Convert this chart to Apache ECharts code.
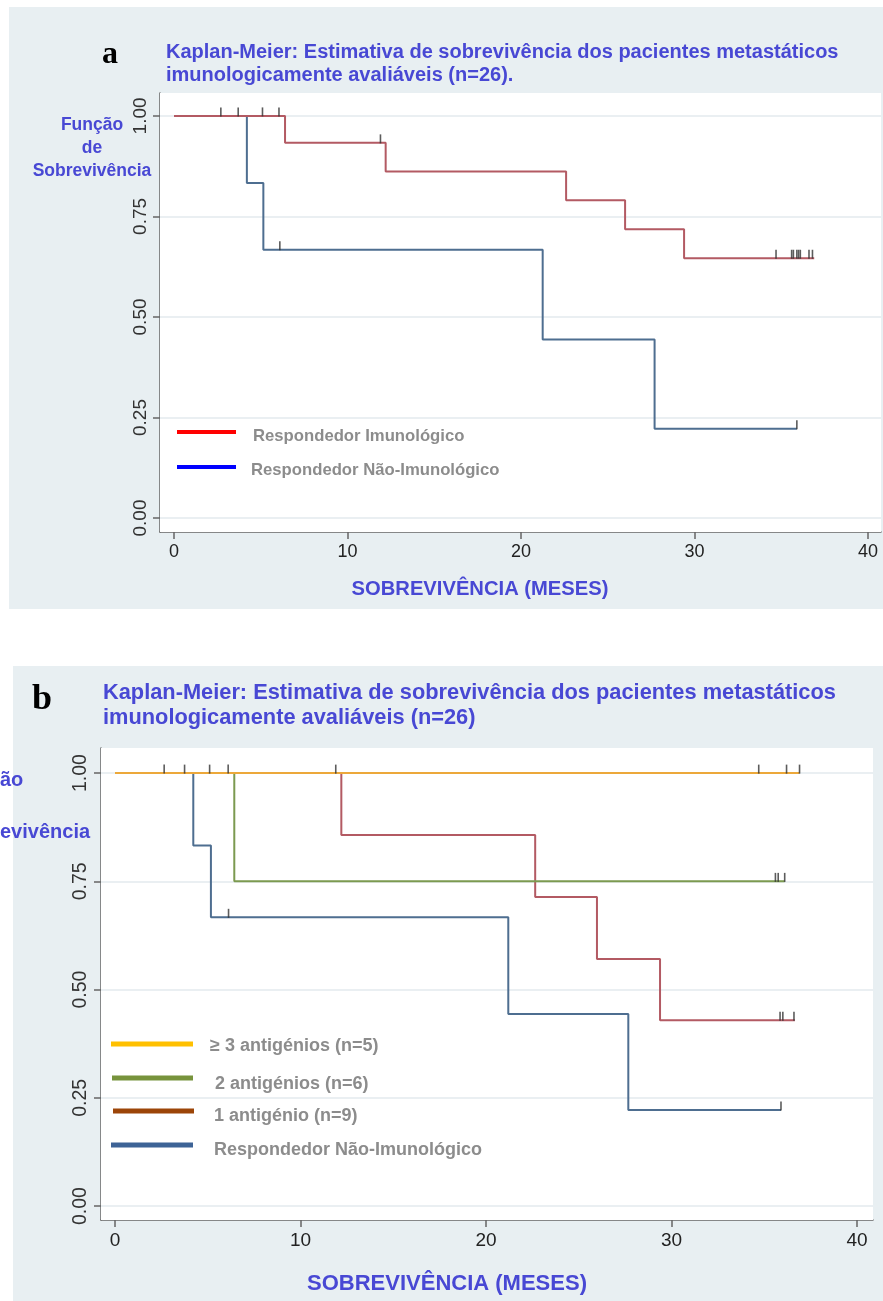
<!DOCTYPE html>
<html>
<head>
<meta charset="utf-8">
<script src="https://cdn.jsdelivr.net/npm/echarts@6/dist/echarts.min.js"></script>
<style>
html,body{margin:0;padding:0;background:#fff;}
#c{width:883px;height:1301px;}
</style>
</head>
<body>
<div id="c"></div>
<script>
// ---------- data ----------
const xTicks = [0, 10, 20, 30, 40];
const yTicks = [0, 0.25, 0.5, 0.75, 1];

// Panel a
const aRespT = [0, 6.4, 12.2, 22.6, 26.0, 29.4, 36.9];
const aRespS = [1, 0.933, 0.862, 0.790, 0.718, 0.646, 0.646];
const aRespCensT = [2.7, 3.7, 5.1, 6.05, 11.9, 34.7, 35.6, 35.7, 35.9, 36.0, 36.1, 36.6, 36.8];
const aRespCensS = [1, 1, 1, 1, 0.933, 0.646, 0.646, 0.646, 0.646, 0.646, 0.646, 0.646, 0.646];
const aNonT = [0, 4.2, 5.15, 21.25, 27.7, 35.9];
const aNonS = [1, 0.833, 0.667, 0.444, 0.222, 0.222];
const aNonCensT = [6.1, 35.9];
const aNonCensS = [0.667, 0.222];

// Panel b
const bAg3T = [0, 36.9];
const bAg3S = [1, 1];
const bAg3CensT = [2.65, 3.75, 5.1, 6.1, 11.9, 34.7, 36.2, 36.9];
const bAg3CensS = [1, 1, 1, 1, 1, 1, 1, 1];
const bAg2T = [0, 6.43, 36.1];
const bAg2S = [1, 0.75, 0.75];
const bAg2CensT = [35.6, 35.75, 36.1];
const bAg2CensS = [0.75, 0.75, 0.75];
const bAg1T = [0, 12.2, 22.65, 25.98, 29.38, 36.65];
const bAg1S = [1, 0.857, 0.714, 0.571, 0.429, 0.429];
const bAg1CensT = [35.85, 36.0, 36.6];
const bAg1CensS = [0.429, 0.429, 0.429];
const bNonT = [0, 4.22, 5.17, 21.2, 27.67, 35.9];
const bNonS = [1, 0.833, 0.667, 0.444, 0.222, 0.222];
const bNonCensT = [6.12, 35.9];
const bNonCensS = [0.667, 0.222];

const titleL1 = 'Kaplan-Meier: Estimativa de sobrevivência dos pacientes metastáticos';
const titleA2 = 'imunologicamente avaliáveis (n=26).';
const titleB2 = 'imunologicamente avaliáveis (n=26)';
const xName = 'SOBREVIVÊNCIA (MESES)';
const legA = ['Respondedor Imunológico', 'Respondedor Não-Imunológico'];
const legB = ['\u2265 3 antigénios (n=5)', '2 antigénios (n=6)', '1 antigénio (n=9)', 'Respondedor Não-Imunológico'];

// ---------- styles ----------
const FONT = '"Liberation Sans", Arial, sans-serif';
const BLUE_TXT = '#4848d4';
const BG = '#e8eff2';
const C_RED = '#b35a63';
const C_BLUE = '#4e6e90';
const C_ORANGE = '#eca83a';
const C_GREEN = '#7c9a50';

const zip = (t, s) => t.map((v, i) => [v, s[i]]);

function xAxisCfg(gi, min, max, fs) {
  return {
    type: 'value', gridIndex: gi, min: min, max: max,
    axisLine: {show: true, onZero: false, lineStyle: {color: '#666', width: 1.5}},
    axisTick: {show: true, length: 7, customValues: xTicks, lineStyle: {color: '#666', width: 1.5}},
    axisLabel: {customValues: xTicks, margin: 11, fontSize: fs, color: '#222', fontFamily: FONT},
    splitLine: {show: false}
  };
}
function yAxisCfg(gi, min, max, fs) {
  return {
    type: 'value', gridIndex: gi, min: min, max: max,
    axisLine: {show: true, onZero: false, lineStyle: {color: '#666', width: 1.5}},
    axisTick: {show: true, length: 7, customValues: yTicks, lineStyle: {color: '#666', width: 1.5}},
    axisLabel: {customValues: yTicks, rotate: 90, margin: 10, fontSize: fs, color: '#333', fontFamily: FONT,
      formatter: v => Number(v).toFixed(2)},
    splitLine: {show: false}
  };
}
function stepSeries(gi, t, s, color, z, withGrid) {
  const o = {
    type: 'line', xAxisIndex: gi, yAxisIndex: gi, step: 'end', showSymbol: false,
    data: zip(t, s), lineStyle: {color: color, width: 2}, itemStyle: {color: color},
    z: z, silent: true, animation: false
  };
  if (withGrid) {
    o.markLine = {
      silent: true, symbol: 'none', label: {show: false}, animation: false,
      lineStyle: {color: '#e3eaee', width: 1.5, type: 'solid'},
      data: yTicks.map(v => ({yAxis: v})), z: 1
    };
  }
  return o;
}
function censSeries(gi, t, s) {
  return {
    type: 'scatter', xAxisIndex: gi, yAxisIndex: gi, data: zip(t, s),
    symbol: 'rect', symbolSize: [1.6, 9], symbolOffset: [0, -4],
    itemStyle: {color: '#333'}, z: 10, silent: true, animation: false
  };
}
function legendLine(x1, x2, y, color, w) {
  return {type: 'line', shape: {x1: x1, y1: y, x2: x2, y2: y}, style: {stroke: color, lineWidth: w}, z: 20};
}
function txt(x, y, text, size, color, opts) {
  return Object.assign({type: 'text', x: x, y: y, z: 20,
    style: Object.assign({text: text, font: 'bold ' + size + 'px ' + FONT, fill: color, textVerticalAlign: 'middle'}, opts || {})});
}

const chart = echarts.init(document.getElementById('c'), null, {renderer: 'canvas'});

const option = {
  backgroundColor: '#fff',
  animation: false,
  grid: [
    {left: 160, top: 93, width: 721, height: 439, show: true, backgroundColor: '#fff', borderWidth: 0, z: 1},
    {left: 101, top: 748, width: 772, height: 472, show: true, backgroundColor: '#fff', borderWidth: 0, z: 1}
  ],
  xAxis: [xAxisCfg(0, -0.807, 40.75, 18), xAxisCfg(1, -0.755, 40.86, 19)],
  yAxis: [yAxisCfg(0, -0.0348, 1.057, 19), yAxisCfg(1, -0.032, 1.058, 19.5)],
  series: [
    stepSeries(0, aNonT, aNonS, C_BLUE, 3, true),
    stepSeries(0, aRespT, aRespS, C_RED, 4, false),
    censSeries(0, aRespCensT, aRespCensS),
    censSeries(0, aNonCensT, aNonCensS),

    stepSeries(1, bNonT, bNonS, C_BLUE, 3, true),
    stepSeries(1, bAg1T, bAg1S, C_RED, 4, false),
    stepSeries(1, bAg2T, bAg2S, C_GREEN, 5, false),
    stepSeries(1, bAg3T, bAg3S, C_ORANGE, 6, false),
    censSeries(1, bAg3CensT, bAg3CensS),
    censSeries(1, bAg2CensT, bAg2CensS),
    censSeries(1, bAg1CensT, bAg1CensS),
    censSeries(1, bNonCensT, bNonCensS)
  ],
  graphic: [
    {type: 'rect', shape: {x: 9, y: 7, width: 874, height: 602}, style: {fill: BG}, z: -10, silent: true},
    {type: 'rect', shape: {x: 13, y: 666, width: 870, height: 635}, style: {fill: BG}, z: -10, silent: true},

    // panel a texts
    txt(102, 55, 'a', 32, '#000', {font: 'bold 32px "Liberation Serif", "Times New Roman", serif'}),
    txt(166, 52, titleL1, 20, BLUE_TXT),
    txt(166, 75, titleA2, 20, BLUE_TXT),
    txt(92, 125, 'Função', 17.5, BLUE_TXT, {textAlign: 'center'}),
    txt(92, 148, 'de', 17.5, BLUE_TXT, {textAlign: 'center'}),
    txt(92, 171, 'Sobrevivência', 17.5, BLUE_TXT, {textAlign: 'center'}),
    txt(480, 589, xName, 20.2, BLUE_TXT, {textAlign: 'center'}),
    legendLine(177, 236, 432, '#ff0000', 4),
    legendLine(177, 236, 467, '#0000ff', 4),
    txt(253, 436, legA[0], 16.7, '#8c8c8c'),
    txt(251, 470, legA[1], 16.7, '#8c8c8c'),

    // panel b texts
    txt(32, 700, 'b', 36, '#000', {font: 'bold 36px "Liberation Serif", "Times New Roman", serif'}),
    txt(103, 693, titleL1, 21.8, BLUE_TXT),
    txt(103, 718, titleB2, 21.8, BLUE_TXT),
    txt(0, 780, 'ão', 20, BLUE_TXT),
    txt(0, 832, 'evivência', 20, BLUE_TXT),
    txt(447, 1284, xName, 22, BLUE_TXT, {textAlign: 'center'}),
    legendLine(111, 193, 1044, '#ffc000', 5),
    legendLine(112, 193, 1078, '#77933c', 5),
    legendLine(113, 194, 1111, '#9c4508', 5),
    legendLine(111, 193, 1145, '#3d6396', 5),
    txt(210, 1046, legB[0], 18, '#8c8c8c'),
    txt(215, 1084, legB[1], 18, '#8c8c8c'),
    txt(214, 1116, legB[2], 18, '#8c8c8c'),
    txt(214, 1150, legB[3], 18, '#8c8c8c')
  ]
};
chart.setOption(option);
</script>
</body>
</html>
